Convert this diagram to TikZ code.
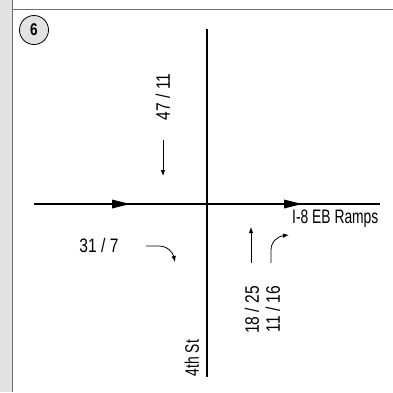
\documentclass[tikz,border=0pt]{standalone}
\usepackage{fontspec}
\setmainfont{Liberation Sans}
\newfontfamily\volfont[FakeStretch=0.80]{Liberation Sans}
\newfontfamily\namefont[FakeStretch=0.71]{Liberation Sans}
\usetikzlibrary{arrows.meta}

\definecolor{panelGray}{RGB}{226,226,226}
\definecolor{ruleGray}{RGB}{110,110,110}

\tikzset{
  road/.style={line width=2.8pt},
  move/.style={line width=0.8pt,-{Latex[length=6pt,width=4.5pt]}},
  vol/.style={font=\volfont\fontsize{19.5}{20}\selectfont,inner sep=0pt},
  street/.style={font=\namefont\fontsize{19.5}{20}\selectfont,inner sep=0pt},
}

\begin{document}
\begin{tikzpicture}[x=1pt,y=-1pt]
  \useasboundingbox (0,0) rectangle (393,392);
  % Page frame: grey strip and top rule
  \fill[panelGray] (0,0) rectangle (12,392);
  \draw[ruleGray,line width=0.8pt] (12,0) -- (12,392);
  \draw[ruleGray,line width=0.8pt] (12,9) -- (393,9);
  % Intersection number
  \node[circle,draw,fill=panelGray,line width=0.8pt,minimum size=29pt,inner sep=0pt,
        font=\volfont\fontsize{17}{18}\selectfont\bfseries] (num) at (34,30) {6};
  % Road ends
  \coordinate (N) at (207,29);
  \coordinate (S) at (207,377);
  \coordinate (W) at (34,204);
  \coordinate (E) at (380,204);
  \coordinate (tipA) at (130,204);
  \coordinate (tipB) at (302,204);
  % Roads
  \draw[road] (N) -- (S);
  \draw[road] (W) -- (E);
  \foreach \t in {tipA,tipB}
    \fill (\t) -- ++(-18,-4.5) -- ++(0,9) -- cycle;
  % Street names
  \node[street,anchor=west] (ramps) at (292,219) {I-8 EB Ramps};
  \node[street,rotate=90] (fourth) at (192,358) {4th St};
  % Turning volumes
  \node[vol,rotate=90] (sbv) at (163,97) {47 / 11};
  \node[vol] (ebv) at (99,246) {31 / 7};
  \node[vol,rotate=90] (nbt) at (252,310) {18 / 25};
  \node[vol,rotate=90] (nbl) at (273,309) {11 / 16};
  % Movement arrows
  \coordinate (sbA) at (163,140);
  \coordinate (sbB) at (163,176);
  \coordinate (ebA) at (146,246);
  \coordinate (ebB) at (175,262);
  \coordinate (ntA) at (251,263);
  \coordinate (ntB) at (251,227);
  \coordinate (nlA) at (271,263);
  \coordinate (nlB) at (289,235);
  \draw[move] (sbA) -- (sbB);
  \draw[move] (ebA) -- ++(13,0) .. controls (168,246) and (173,253) .. (ebB);
  \draw[move] (ntA) -- (ntB);
  \draw[move] (nlA) -- ++(0,-13) .. controls (271,241) and (279,236) .. (nlB);
\end{tikzpicture}
\end{document}
